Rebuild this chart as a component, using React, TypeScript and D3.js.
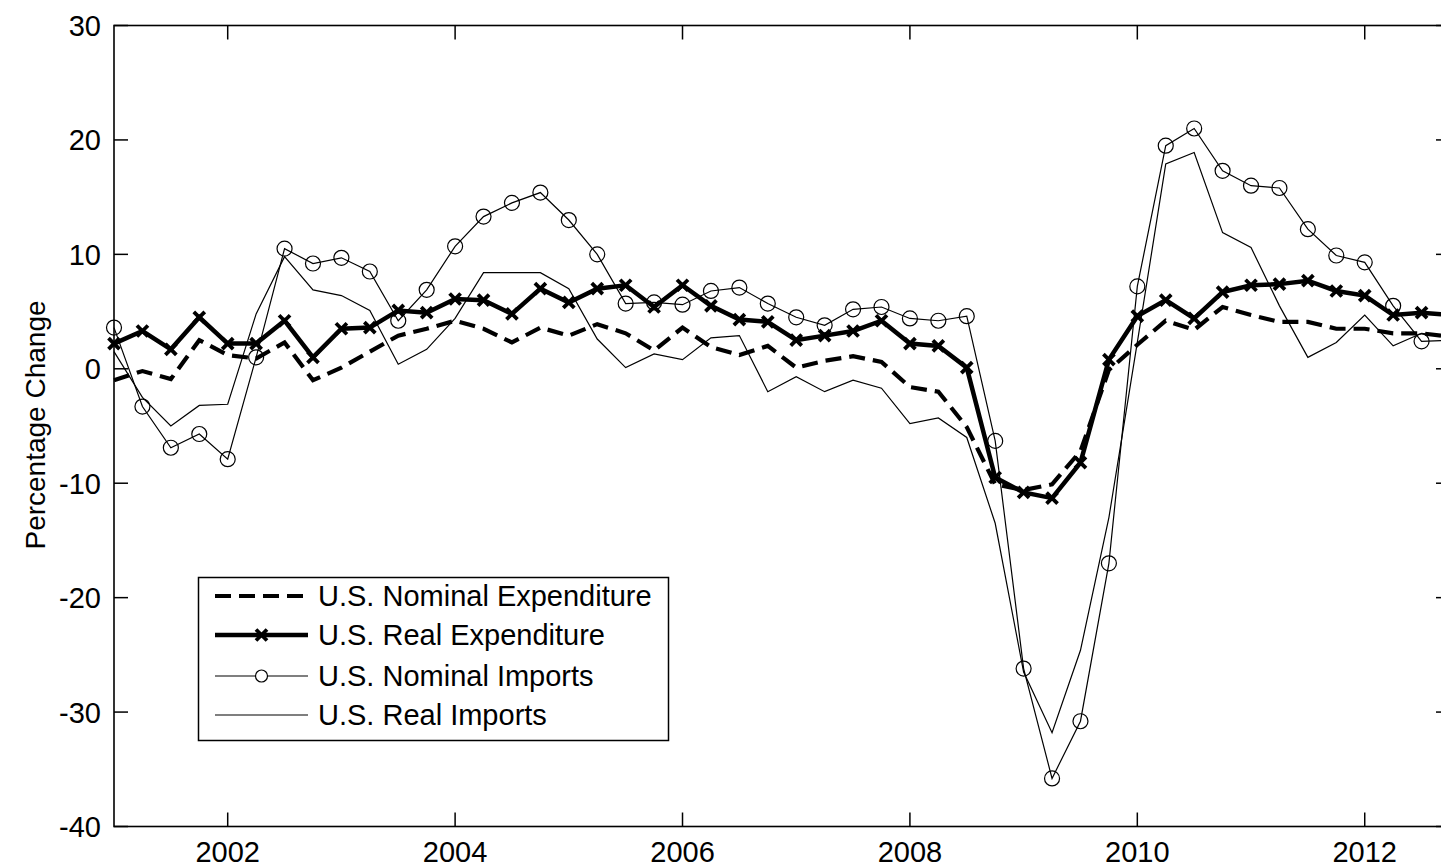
import React from "react";
import * as d3 from "d3";

const years: number[] = [2002, 2004, 2006, 2008, 2010, 2012];
const yTicks: number[] = [30, 20, 10, 0, -10, -20, -30, -40];

const nominalExp: number[] = [
  -1.0, -0.2, -0.9, 2.5, 1.2, 0.9, 2.3, -1.0, 0.1, 1.5, 2.9, 3.5,
  4.2, 3.5, 2.3, 3.6, 2.9, 3.9, 3.1, 1.6, 3.6, 1.9, 1.2, 2.0,
  0.1, 0.7, 1.1, 0.6, -1.6, -2.0, -5.1, -10.1, -10.6, -10.1, -7.2, -0.1,
  2.1, 4.2, 3.4, 5.4, 4.7, 4.1, 4.1, 3.5, 3.5, 3.1, 3.1, 2.8,
];
const realExp: number[] = [
  2.2, 3.3, 1.7, 4.5, 2.2, 2.2, 4.2, 1.0, 3.5, 3.6, 5.1, 4.9,
  6.1, 6.0, 4.8, 7.0, 5.8, 7.0, 7.3, 5.4, 7.3, 5.5, 4.3, 4.1,
  2.5, 2.9, 3.3, 4.2, 2.2, 2.0, 0.1, -9.5, -10.8, -11.3, -8.2, 0.8,
  4.6, 6.0, 4.4, 6.7, 7.3, 7.4, 7.7, 6.8, 6.4, 4.7, 4.9, 4.7,
];
const nominalImp: number[] = [
  3.6, -3.3, -6.9, -5.7, -7.9, 1.0, 10.5, 9.2, 9.7, 8.5, 4.2, 6.9,
  10.7, 13.3, 14.5, 15.4, 13.0, 10.0, 5.7, 5.8, 5.6, 6.8, 7.1, 5.7,
  4.5, 3.8, 5.2, 5.4, 4.4, 4.2, 4.6, -6.3, -26.2, -35.8, -30.8, -17.0,
  7.2, 19.5, 21.0, 17.3, 16.0, 15.8, 12.2, 9.9, 9.3, 5.5, 2.4, 2.5,
];
const realImp: number[] = [
  1.5, -2.5, -5.0, -3.2, -3.1, 4.8, 9.8, 6.9, 6.4, 5.1, 0.4, 1.7,
  4.4, 8.4, 8.4, 8.4, 7.0, 2.6, 0.1, 1.3, 0.8, 2.7, 2.9, -2.0,
  -0.7, -2.0, -1.0, -1.7, -4.8, -4.3, -6.0, -13.5, -26.5, -31.8, -24.6, -13.0,
  2.3, 17.9, 18.9, 11.9, 10.6, 5.5, 1.0, 2.3, 4.7, 2.0, 3.1, 2.8,
];
const legendLabels: string[] = [
  "U.S. Nominal Expenditure",
  "U.S. Real Expenditure",
  "U.S. Nominal Imports",
  "U.S. Real Imports",
];

const W = 1441;
const H = 868;
const L = 114;
const R = 1450;
const T = 25.5;
const B = 826.5;
const FONT = "'Liberation Sans', Arial, Helvetica, sans-serif";

export default function App() {
  const x = d3.scaleLinear().domain([2001, 2012.75]).range([L, R]);
  const y = d3.scaleLinear().domain([-40, 30]).range([B, T]);
  const t = (i: number) => 2001 + i * 0.25;
  const line = d3
    .line<number>()
    .x((_, i) => x(t(i)))
    .y((d) => y(d));

  const xMark = (cx: number, cy: number, k: string) => (
    <path
      key={k}
      d={`M${cx - 5.5},${cy - 5.5}L${cx + 5.5},${cy + 5.5}M${cx - 5.5},${cy + 5.5}L${cx + 5.5},${cy - 5.5}`}
      stroke="#000"
      strokeWidth={3.8}
      fill="none"
    />
  );

  const tickLen = 14;
  const lx0 = 215;
  const lx1 = 308;
  const rows = [596, 635, 676, 715];
  const fs = 29;

  return (
    <svg
      width={W}
      height={H}
      style={{ position: "absolute", left: 0, top: 0, background: "#fff" }}
      fontFamily={FONT}
    >
      <rect x={0} y={0} width={W} height={H} fill="#fff" />
      {/* data */}
      <path d={line(nominalExp) || ""} fill="none" stroke="#000" strokeWidth={4.2} strokeDasharray="16 8" />
      <path d={line(realExp) || ""} fill="none" stroke="#000" strokeWidth={4.5} />
      {realExp.map((v, i) => xMark(x(t(i)), y(v), "rx" + i))}
      <path d={line(nominalImp) || ""} fill="none" stroke="#000" strokeWidth={1.2} />
      {nominalImp.map((v, i) => (
        <circle key={"ni" + i} cx={x(t(i))} cy={y(v)} r={7.5} fill="none" stroke="#000" strokeWidth={1.2} />
      ))}
      <path d={line(realImp) || ""} fill="none" stroke="#000" strokeWidth={1.2} />

      {/* axes box */}
      <rect x={L} y={T} width={R - L} height={B - T} fill="none" stroke="#000" strokeWidth={1.6} />
      {years.map((yr) => (
        <g key={"xt" + yr}>
          <line x1={x(yr)} x2={x(yr)} y1={B} y2={B - tickLen} stroke="#000" strokeWidth={1.5} />
          <line x1={x(yr)} x2={x(yr)} y1={T} y2={T + tickLen} stroke="#000" strokeWidth={1.5} />
          <text x={x(yr)} y={B + 35} fontSize={fs} textAnchor="middle" fill="#000">
            {yr}
          </text>
        </g>
      ))}
      {yTicks.map((v) => (
        <g key={"yt" + v}>
          <line x1={L} x2={L + tickLen} y1={y(v)} y2={y(v)} stroke="#000" strokeWidth={1.5} />
          <line x1={R} x2={R - tickLen} y1={y(v)} y2={y(v)} stroke="#000" strokeWidth={1.5} />
          <text x={L - 13} y={y(v)} dy="0.36em" fontSize={fs} textAnchor="end" fill="#000">
            {v}
          </text>
        </g>
      ))}
      <text
        transform={`translate(45,425) rotate(-90)`}
        fontSize={28}
        textAnchor="middle"
        fill="#000"
      >
        Percentage Change
      </text>

      {/* legend */}
      <rect x={198.5} y={577.5} width={470} height={163} fill="#fff" stroke="#000" strokeWidth={1.5} />
      <line x1={lx0} x2={lx1} y1={rows[0]} y2={rows[0]} stroke="#000" strokeWidth={4.2} strokeDasharray="16 8" />
      <line x1={lx0} x2={lx1} y1={rows[1]} y2={rows[1]} stroke="#000" strokeWidth={4.5} />
      {xMark((lx0 + lx1) / 2, rows[1], "lgx")}
      <line x1={lx0} x2={lx1} y1={rows[2]} y2={rows[2]} stroke="#000" strokeWidth={1.2} />
      <circle cx={(lx0 + lx1) / 2} cy={rows[2]} r={6} fill="#fff" stroke="#000" strokeWidth={1.2} />
      <line x1={lx0} x2={lx1} y1={rows[3]} y2={rows[3]} stroke="#000" strokeWidth={1.2} />
      {legendLabels.map((s, i) => (
        <text key={"lg" + i} x={318} y={rows[i]} dy="0.36em" fontSize={fs} fill="#000">
          {s}
        </text>
      ))}
    </svg>
  );
}
